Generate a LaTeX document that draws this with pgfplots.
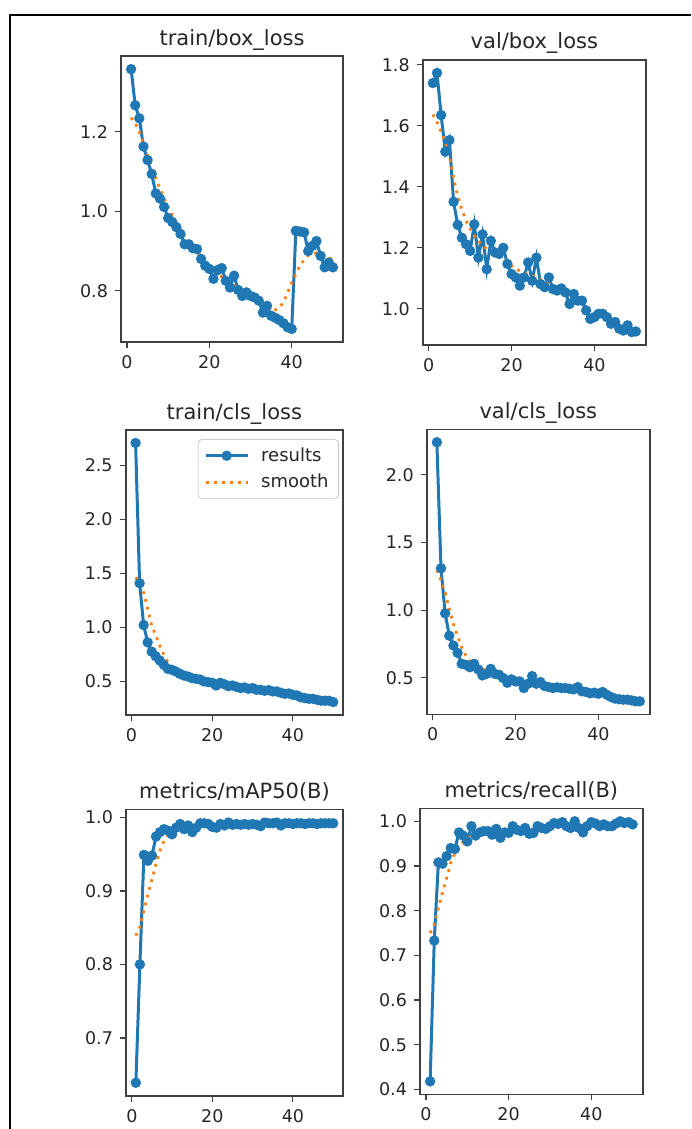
\documentclass[border=0pt]{standalone}
\usepackage{fontspec}
\setmainfont{DejaVu Sans}
\usepackage{pgfplots}
\usepackage{pgfplotstable}
\pgfplotsset{compat=1.18}

\definecolor{mplblue}{HTML}{1F77B4}
\definecolor{mplorange}{HTML}{FF7F0E}

% epoch, results, smooth
\pgfplotstableread{
ep res smo
1 1.358 1.236
2 1.267 1.222
3 1.234 1.200
4 1.163 1.172
5 1.129 1.142
6 1.094 1.112
7 1.045 1.083
8 1.032 1.057
9 1.011 1.033
10 0.983 1.010
11 0.973 0.990
12 0.960 0.971
13 0.943 0.954
14 0.917 0.938
15 0.917 0.924
16 0.907 0.911
17 0.905 0.898
18 0.880 0.885
19 0.863 0.872
20 0.855 0.860
21 0.830 0.850
22 0.852 0.842
23 0.857 0.835
24 0.825 0.828
25 0.808 0.820
26 0.838 0.813
27 0.802 0.806
28 0.787 0.799
29 0.796 0.793
30 0.787 0.787
31 0.783 0.781
32 0.775 0.775
33 0.745 0.769
34 0.762 0.762
35 0.737 0.756
36 0.732 0.752
37 0.726 0.757
38 0.718 0.772
39 0.708 0.795
40 0.704 0.820
41 0.951 0.843
42 0.949 0.863
43 0.947 0.878
44 0.900 0.889
45 0.913 0.894
46 0.925 0.895
47 0.888 0.892
48 0.859 0.887
49 0.871 0.882
50 0.859 0.879
}\trainbox

\pgfplotstableread{
ep res smo
1 1.740 1.637
2 1.773 1.612
3 1.635 1.580
4 1.515 1.545
5 1.553 1.500
6 1.351 1.430
7 1.275 1.370
8 1.233 1.325
9 1.212 1.290
10 1.190 1.262
11 1.277 1.240
12 1.168 1.222
13 1.244 1.208
14 1.130 1.197
15 1.223 1.188
16 1.185 1.180
17 1.180 1.172
18 1.200 1.163
19 1.147 1.152
20 1.114 1.141
21 1.103 1.132
22 1.076 1.124
23 1.103 1.118
24 1.152 1.113
25 1.092 1.108
26 1.168 1.103
27 1.081 1.096
28 1.071 1.089
29 1.103 1.082
30 1.065 1.075
31 1.060 1.068
32 1.067 1.061
33 1.054 1.053
34 1.016 1.045
35 1.049 1.037
36 1.027 1.027
37 1.027 1.016
38 0.995 1.005
39 0.967 0.995
40 0.973 0.987
41 0.984 0.980
42 0.984 0.974
43 0.973 0.967
44 0.951 0.960
45 0.957 0.953
46 0.935 0.947
47 0.929 0.942
48 0.946 0.938
49 0.924 0.935
50 0.926 0.933
}\valbox

\pgfplotstableread{
ep res smo
1 2.706 1.462
2 1.409 1.415
3 1.022 1.323
4 0.862 1.176
5 0.776 1.016
6 0.733 0.930
7 0.694 0.832
8 0.654 0.749
9 0.617 0.678
10 0.608 0.632
11 0.592 0.608
12 0.571 0.586
13 0.555 0.568
14 0.546 0.553
15 0.531 0.540
16 0.525 0.528
17 0.518 0.517
18 0.500 0.507
19 0.494 0.497
20 0.488 0.489
21 0.463 0.482
22 0.488 0.476
23 0.475 0.469
24 0.457 0.462
25 0.463 0.456
26 0.451 0.450
27 0.439 0.445
28 0.445 0.440
29 0.432 0.435
30 0.439 0.431
31 0.423 0.427
32 0.423 0.422
33 0.414 0.418
34 0.420 0.414
35 0.408 0.409
36 0.408 0.404
37 0.396 0.398
38 0.386 0.392
39 0.389 0.385
40 0.377 0.378
41 0.371 0.370
42 0.353 0.362
43 0.346 0.354
44 0.340 0.347
45 0.340 0.341
46 0.331 0.335
47 0.322 0.330
48 0.322 0.326
49 0.322 0.323
50 0.310 0.322
}\traincls

\pgfplotstableread{
ep res smo
1 2.240 1.297
2 1.309 1.220
3 0.976 1.130
4 0.811 1.007
5 0.738 0.897
6 0.684 0.806
7 0.603 0.725
8 0.596 0.664
9 0.578 0.623
10 0.603 0.598
11 0.561 0.580
12 0.517 0.565
13 0.529 0.553
14 0.566 0.542
15 0.529 0.532
16 0.522 0.521
17 0.498 0.510
18 0.463 0.499
19 0.488 0.489
20 0.473 0.481
21 0.473 0.475
22 0.424 0.470
23 0.456 0.466
24 0.512 0.462
25 0.456 0.457
26 0.468 0.452
27 0.439 0.446
28 0.431 0.440
29 0.424 0.435
30 0.429 0.431
31 0.424 0.427
32 0.424 0.424
33 0.419 0.420
34 0.414 0.416
35 0.431 0.411
36 0.400 0.405
37 0.395 0.399
38 0.385 0.393
39 0.390 0.388
40 0.382 0.383
41 0.395 0.378
42 0.375 0.372
43 0.358 0.365
44 0.346 0.358
45 0.341 0.351
46 0.338 0.345
47 0.338 0.340
48 0.333 0.336
49 0.326 0.333
50 0.326 0.331
}\valcls

\pgfplotstableread{
ep res smo
1 0.639 0.839
2 0.800 0.851
3 0.949 0.873
4 0.941 0.896
5 0.948 0.916
6 0.974 0.937
7 0.980 0.955
8 0.984 0.968
9 0.982 0.976
10 0.977 0.981
11 0.986 0.983
12 0.991 0.985
13 0.984 0.986
14 0.989 0.987
15 0.980 0.987
16 0.986 0.988
17 0.992 0.988
18 0.992 0.989
19 0.991 0.989
20 0.987 0.989
21 0.986 0.990
22 0.991 0.990
23 0.989 0.990
24 0.993 0.990
25 0.990 0.990
26 0.991 0.990
27 0.990 0.990
28 0.991 0.990
29 0.990 0.990
30 0.991 0.990
31 0.990 0.990
32 0.988 0.991
33 0.993 0.991
34 0.992 0.991
35 0.992 0.991
36 0.993 0.991
37 0.989 0.991
38 0.992 0.991
39 0.992 0.991
40 0.991 0.991
41 0.992 0.992
42 0.992 0.992
43 0.991 0.992
44 0.992 0.992
45 0.992 0.992
46 0.991 0.992
47 0.992 0.992
48 0.992 0.992
49 0.992 0.992
50 0.992 0.992
}\mapfifty

\pgfplotstableread{
ep res smo
1 0.418 0.750
2 0.733 0.769
3 0.908 0.806
4 0.905 0.840
5 0.922 0.873
6 0.940 0.907
7 0.938 0.929
8 0.975 0.943
9 0.968 0.955
10 0.955 0.963
11 0.989 0.967
12 0.968 0.969
13 0.975 0.971
14 0.978 0.972
15 0.978 0.973
16 0.970 0.974
17 0.983 0.975
18 0.963 0.976
19 0.975 0.977
20 0.974 0.978
21 0.989 0.979
22 0.981 0.980
23 0.978 0.980
24 0.985 0.981
25 0.972 0.981
26 0.974 0.982
27 0.989 0.983
28 0.985 0.984
29 0.983 0.985
30 0.989 0.987
31 0.996 0.988
32 0.994 0.990
33 0.998 0.990
34 0.989 0.990
35 0.985 0.990
36 1.000 0.990
37 0.985 0.989
38 0.975 0.989
39 0.989 0.990
40 0.998 0.990
41 0.995 0.991
42 0.989 0.991
43 0.993 0.992
44 0.989 0.992
45 0.989 0.993
46 0.995 0.994
47 1.000 0.995
48 0.996 0.996
49 0.998 0.996
50 0.993 0.996
}\recall

\pgfplotsset{
  panel/.style={
    scale only axis,
    anchor=north west,
    xmin=-1.45, xmax=52.45,
    xtick={0,20,40},
    tick align=outside,
    tick pos=left,
    major tick length=3pt,
    axis line style={black!75, line width=0.8pt},
    every tick/.style={black!75, line width=0.6pt},
    tick label style={font=\fontsize{8.75}{10}\selectfont, text=black!85},
    yticklabel style={/pgf/number format/.cd, fixed, fixed zerofill, precision=1},
    /pgf/number format/assume math mode=true,
    every axis title/.style={font=\fontsize{10.5}{12}\selectfont, text=black!85,
      at={(0.5,1)}, anchor=base, yshift=5.5pt},
  },
  res/.style={mplblue, line width=1.5pt, mark=*, mark size=1.8pt,
    mark options={solid, fill=mplblue, draw=mplblue}},
  smo/.style={mplorange, line width=1.4pt, dash pattern=on 1.4pt off 2.6pt},
}

\begin{document}
\begin{tikzpicture}
\path[use as bounding box] (0,0) rectangle (345.5pt,-564.5pt);
% frame around the figure (only left and top edges are in view)
\draw[black, line width=1pt] (5pt,-564.5pt) -- (5pt,-7.5pt) -- (345.5pt,-7.5pt);

\begin{axis}[panel, at={(60.5pt,-28pt)}, width=111pt, height=143pt,
  ymin=0.671, ymax=1.391, ytick={0.8,1.0,1.2}, title={train/box\_loss}]
\addplot[res] table[x=ep, y=res] {\trainbox};
\addplot[smo] table[x=ep, y=smo] {\trainbox};
\end{axis}

\begin{axis}[panel, at={(211.35pt,-30pt)}, width=111.65pt, height=142.5pt,
  ymin=0.8816, ymax=1.8155, ytick={1.0,1.2,1.4,1.6,1.8}, title={val/box\_loss}]
\addplot[res] table[x=ep, y=res] {\valbox};
\addplot[smo] table[x=ep, y=smo] {\valbox};
\end{axis}

\begin{axis}[panel, at={(62.85pt,-215pt)}, width=108.65pt, height=142.5pt,
  ymin=0.19, ymax=2.826, ytick={0.5,1.0,1.5,2.0,2.5}, title={train/cls\_loss},
  legend cell align=left,
  legend style={at={(1,1)}, anchor=north east, xshift=-2pt, yshift=-4.5pt,
    draw=black!20, rounded corners=2pt, fill=white, fill opacity=0.8, text opacity=1,
    font=\fontsize{9}{10}\selectfont, text=black!85,
    inner xsep=3pt, inner ysep=2pt, row sep=1pt, column sep=4pt},
  legend image code/.code={
    \draw[#1, mark repeat=2, mark phase=2] plot coordinates {(0pt,0pt) (10.5pt,0pt) (21pt,0pt)};}]
\addplot[res] table[x=ep, y=res] {\traincls};
\addlegendentry{results}
\addplot[smo] table[x=ep, y=smo] {\traincls};
\addlegendentry{smooth}
\end{axis}

\begin{axis}[panel, at={(213.35pt,-214.65pt)}, width=111.65pt, height=142.5pt,
  ymin=0.230, ymax=2.336, ytick={0.5,1.0,1.5,2.0}, title={val/cls\_loss}]
\addplot[res] table[x=ep, y=res] {\valcls};
\addplot[smo] table[x=ep, y=smo] {\valcls};
\end{axis}

\begin{axis}[panel, at={(63pt,-404.65pt)}, width=108.5pt, height=143.35pt,
  ymin=0.621, ymax=1.011, ytick={0.7,0.8,0.9,1.0}, title={metrics/mAP50(B)}]
\addplot[res] table[x=ep, y=res] {\mapfifty};
\addplot[smo] table[x=ep, y=smo] {\mapfifty};
\end{axis}

\begin{axis}[panel, at={(210pt,-404.15pt)}, width=111.35pt, height=143pt,
  ymin=0.389, ymax=1.029, ytick={0.4,0.5,0.6,0.7,0.8,0.9,1.0}, title={metrics/recall(B)}]
\addplot[res] table[x=ep, y=res] {\recall};
\addplot[smo] table[x=ep, y=smo] {\recall};
\end{axis}
\end{tikzpicture}
\end{document}
